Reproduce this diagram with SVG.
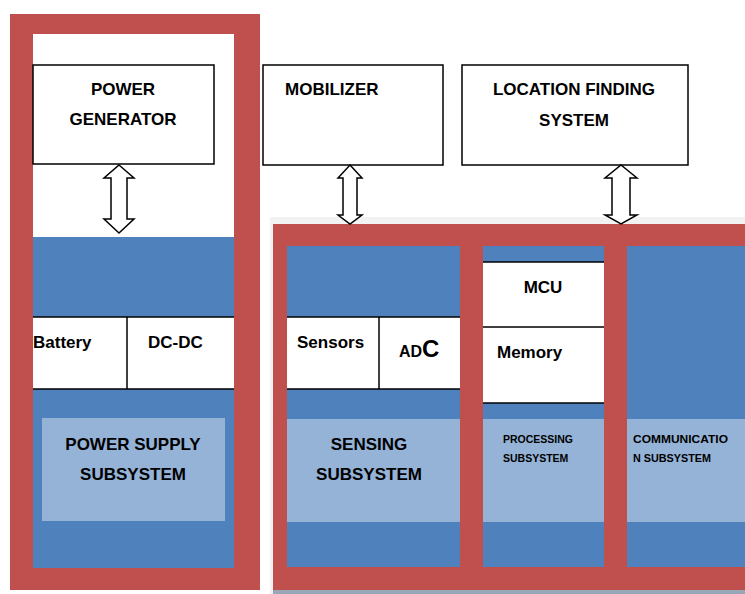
<svg xmlns="http://www.w3.org/2000/svg" width="745" height="594" viewBox="0 0 745 594">
<style>
.red{fill:#c0504d}
.blue{fill:#4f81bd}
.light{fill:#95b3d7}
.wb{fill:#fff;stroke:#000;stroke-width:1.5}
.ln{stroke:#000;stroke-width:1.5;fill:none}
.t{font-family:"Liberation Sans",Arial,sans-serif;font-weight:bold;font-size:17px;fill:#000}
.s{font-family:"Liberation Sans",Arial,sans-serif;font-weight:bold;font-size:10.5px;fill:#000}
.arr{fill:#fff;stroke:#000;stroke-width:1.5;stroke-linejoin:miter}
</style>
<rect width="745" height="594" fill="#fff"/>

<g id="power-subsystem">
<rect class="red" x="10" y="14" width="250" height="576"/>
<rect fill="#fff" x="33" y="34" width="201" height="203"/>
<rect class="blue" x="33" y="237" width="201" height="331"/>
<rect fill="#fff" x="33" y="317" width="201" height="72"/>
<line class="ln" x1="33" y1="317" x2="234" y2="317"/>
<line class="ln" x1="33" y1="389" x2="234" y2="389"/>
<line class="ln" x1="127" y1="317" x2="127" y2="389"/>
<text class="t" x="33" y="348">Battery</text>
<text class="t" x="148" y="348">DC-DC</text>
<rect class="light" x="42" y="418" width="183" height="103"/>
<text class="t" x="133" y="450" text-anchor="middle">POWER SUPPLY</text>
<text class="t" x="133" y="480" text-anchor="middle">SUBSYSTEM</text>
</g>

<g id="power-generator">
<rect class="wb" x="33" y="65" width="181" height="99"/>
<text class="t" x="123" y="95" text-anchor="middle">POWER</text>
<text class="t" x="123" y="125" text-anchor="middle">GENERATOR</text>
</g>

<g id="mobilizer">
<rect class="wb" x="263" y="65" width="180" height="100"/>
<text class="t" x="285" y="95">MOBILIZER</text>
</g>

<g id="location-finding">
<rect class="wb" x="462" y="65" width="226" height="100"/>
<text class="t" x="574" y="95" text-anchor="middle">LOCATION FINDING</text>
<text class="t" x="574" y="126" text-anchor="middle">SYSTEM</text>
</g>

<g id="right-panel">
<rect fill="#f2f2f2" x="270" y="217" width="475" height="377"/>
<rect fill="#98a6b5" x="273" y="588" width="472" height="6"/>
<rect class="red" x="273" y="224" width="472" height="366"/>
</g>

<g id="sensing-subsystem">
<rect class="blue" x="287" y="246" width="173" height="321"/>
<rect fill="#fff" x="287" y="317" width="173" height="72"/>
<line class="ln" x1="287" y1="317" x2="460" y2="317"/>
<line class="ln" x1="287" y1="389" x2="460" y2="389"/>
<line class="ln" x1="379" y1="317" x2="379" y2="389"/>
<text class="t" x="297" y="348">Sensors</text>
<text class="t" x="399" y="357"><tspan font-size="16">AD</tspan><tspan font-size="24">C</tspan></text>
<rect class="light" x="287" y="419" width="173" height="103"/>
<text class="t" x="369" y="450" text-anchor="middle">SENSING</text>
<text class="t" x="369" y="480" text-anchor="middle">SUBSYSTEM</text>
</g>

<g id="processing-subsystem">
<rect class="blue" x="483" y="246" width="121" height="321"/>
<rect fill="#fff" x="483" y="262" width="121" height="141"/>
<line class="ln" x1="483" y1="262" x2="604" y2="262"/>
<line class="ln" x1="483" y1="327" x2="604" y2="327"/>
<line class="ln" x1="483" y1="403" x2="604" y2="403"/>
<text class="t" x="543" y="293" text-anchor="middle">MCU</text>
<text class="t" x="497" y="358">Memory</text>
<rect class="light" x="483" y="419" width="121" height="103"/>
<text class="s" x="503" y="443">PROCESSING</text>
<text class="s" x="503" y="462">SUBSYSTEM</text>
</g>

<g id="communication-subsystem">
<rect class="blue" x="627" y="246" width="118" height="321"/>
<rect class="light" x="627" y="419" width="118" height="103"/>
<text class="s" x="633" y="443" textLength="95" lengthAdjust="spacingAndGlyphs">COMMUNICATIO</text>
<text class="s" x="633" y="462" textLength="78" lengthAdjust="spacingAndGlyphs">N SUBSYSTEM</text>
</g>

<g id="connectors">
<path class="arr" d="M119,165 L134,178 L127,178 L127,219 L134,219 L119,233 L104,219 L111,219 L111,178 L104,178 Z"/>
<path class="arr" d="M350,165 L362,178 L357,178 L357,215 L362,215 L350,224 L338,215 L343,215 L343,178 L338,178 Z"/>
<path class="arr" d="M621,165 L637,178 L630,178 L630,215 L637,215 L621,224 L605,215 L612,215 L612,178 L605,178 Z"/>
</g>
</svg>
